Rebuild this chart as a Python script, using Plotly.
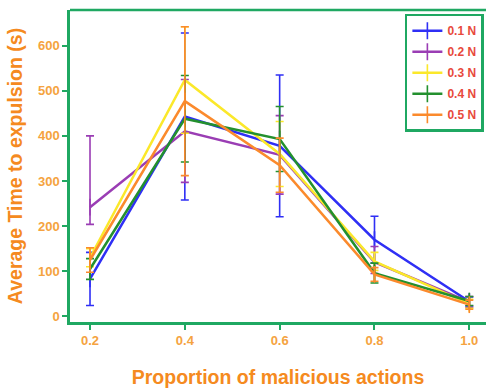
import plotly.graph_objects as go

x_vals = [0.2, 0.4, 0.6, 0.8, 1.0]
series_names = ["0.1 N", "0.2 N", "0.3 N", "0.4 N", "0.5 N"]

mean_01 = [83, 443, 378, 170, 33]
err_01 = [59, 185, 157, 52, 10]

mean_02 = [242, 410, 358, 120, 32]
err_02_plus = [158, 115, 87, 35, 12]
err_02_minus = [38, 113, 87, 25, 12]

mean_03 = [130, 524, 360, 122, 28]
err_03 = [20, 118, 72, 20, 10]

mean_04 = [105, 438, 393, 96, 34]
err_04 = [23, 96, 72, 22, 10]

mean_05 = [125, 477, 335, 93, 26]
err_05 = [27, 165, 60, 15, 10]

colors = ["#2f2ff5", "#9a3db4", "#fbe82a", "#23902e", "#fb8a2c"]
frame_green = "#1fa862"
tick_orange = "#f5a340"
title_orange = "#f58a20"
legend_red = "#e8493c"

means = [mean_01, mean_02, mean_03, mean_04, mean_05]
errs_plus = [err_01, err_02_plus, err_03, err_04, err_05]
errs_minus = [err_01, err_02_minus, err_03, err_04, err_05]

fig = go.Figure()
for name, m, ep, em, c in zip(series_names, means, errs_plus, errs_minus, colors):
    fig.add_trace(go.Scatter(
        x=x_vals, y=m, name=name, mode="lines+markers", legendgroup=name,
        line=dict(color=c, width=2.5),
        marker=dict(symbol="line-ns", size=12, color=c, line=dict(width=1.6, color=c)),
        error_y=dict(type="data", symmetric=False, array=ep, arrayminus=em,
                     color=c, thickness=1.6, width=4),
    ))

fig.update_layout(
    width=486, height=390,
    margin=dict(l=70, r=0, t=10, b=68),
    paper_bgcolor="white", plot_bgcolor="white",
    font=dict(family="Liberation Sans, Arial, sans-serif"),
    showlegend=True,
    legend=dict(
        x=0.805, y=0.988, xanchor="left", yanchor="top",
        bordercolor=frame_green, borderwidth=2.5, bgcolor="white",
        font=dict(size=12, color=legend_red, weight="bold"),
        tracegroupgap=2, itemwidth=30,
    ),
    xaxis=dict(
        range=[0.1578, 1.0352], tickvals=x_vals,
        ticktext=["0.2", "0.4", "0.6", "0.8", "1.0"],
        showgrid=False, zeroline=False,
        showline=True, linecolor=frame_green, linewidth=2.5,
        ticks="outside", ticklen=5, tickwidth=2, tickcolor=frame_green,
        tickfont=dict(size=13, color=tick_orange, weight="bold"),
        title=dict(text="Proportion of malicious actions", standoff=24,
                   font=dict(size=19.5, color=title_orange, weight="bold")),
    ),
    yaxis=dict(
        range=[-12.4, 679], tickvals=[0, 100, 200, 300, 400, 500, 600],
        showgrid=False, zeroline=False,
        showline=True, linecolor=frame_green, linewidth=2.5,
        ticks="outside", ticklen=5, tickwidth=2, tickcolor=frame_green,
        tickfont=dict(size=13, color=tick_orange, weight="bold"),
        title=dict(text="Average Time to expulsion (s)", standoff=11,
                   font=dict(size=19.5, color=title_orange, weight="bold")),
    ),
)

fig.add_shape(type="line", xref="paper", yref="paper", x0=0, x1=1, y0=1, y1=1,
              line=dict(color=frame_green, width=2.5))

page_fix = (
    "document.body.style.margin='0';"
    "document.body.style.padding='0';"
    "document.documentElement.style.overflow='hidden';"
    "document.body.style.overflow='hidden';"
)

fig.write_html("out.html", config={"displayModeBar": False}, post_script=page_fix)
